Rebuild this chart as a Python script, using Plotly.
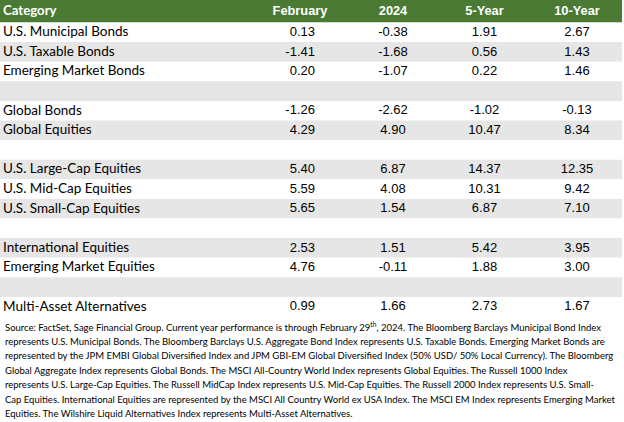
import plotly.graph_objects as go

categories = ["U.S. Municipal Bonds", "U.S. Taxable Bonds", "Emerging Market Bonds", "",
              "Global Bonds", "Global Equities", "",
              "U.S. Large-Cap Equities", "U.S. Mid-Cap Equities", "U.S. Small-Cap Equities", "",
              "International Equities", "Emerging Market Equities", "",
              "Multi-Asset Alternatives"]
february = [0.13, -1.41, 0.20, None, -1.26, 4.29, None, 5.40, 5.59, 5.65, None, 2.53, 4.76, None, 0.99]
ytd_2024 = [-0.38, -1.68, -1.07, None, -2.62, 4.90, None, 6.87, 4.08, 1.54, None, 1.51, -0.11, None, 1.66]
five_year = [1.91, 0.56, 0.22, None, -1.02, 10.47, None, 14.37, 10.31, 6.87, None, 5.42, 1.88, None, 2.73]
ten_year = [2.67, 1.43, 1.46, None, -0.13, 8.34, None, 12.35, 9.42, 7.10, None, 3.95, 3.00, None, 1.67]
headers = ["Category", "February", "2024", "5-Year", "10-Year"]

footnote_lines = [
    "Source: FactSet, Sage Financial Group. Current year performance is through February 29<sup>th</sup>, 2024. The Bloomberg Barclays Municipal Bond Index",
    "represents U.S. Municipal Bonds. The Bloomberg Barclays U.S. Aggregate Bond Index represents U.S. Taxable Bonds. Emerging Market Bonds are",
    "represented by the JPM EMBI Global Diversified Index and JPM GBI-EM Global Diversified Index (50% USD/ 50% Local Currency). The Bloomberg",
    "Global Aggregate Index represents Global Bonds. The MSCI All-Country World Index represents Global Equities. The Russell 1000 Index",
    "represents U.S. Large-Cap Equities. The Russell MidCap Index represents U.S. Mid-Cap Equities. The Russell 2000 Index represents U.S. Small-",
    "Cap Equities. International Equities are represented by the MSCI All Country World ex USA Index. The MSCI EM Index represents Emerging Market",
    "Equities. The Wilshire Liquid Alternatives Index represents Multi-Asset Alternatives.",
]

W, H = 624, 422
GREEN = "#4a7a33"
GREY = "#e6e6e6"
TABLE_W = 622
HEADER_H = 22.5
ROW_H = 19.6

n = len(categories)
row_centers = [HEADER_H + ROW_H * (i + 0.5) for i in range(n)]
row_fill = ["white" if i % 2 == 0 else GREY for i in range(n)]


def fmt(vals):
    return ["" if v is None else f"{v:.2f}" for v in vals]


fig = go.Figure()

# cell backgrounds (header + banded rows)
fig.add_trace(go.Bar(
    orientation="h",
    x=[TABLE_W] * (n + 1),
    base=0,
    y=[HEADER_H / 2] + row_centers,
    width=[HEADER_H] + [ROW_H] * n,
    marker=dict(color=[GREEN] + row_fill, line=dict(width=0)),
    hoverinfo="skip",
))

NUM_FONT = dict(family="Liberation Sans, Arial, sans-serif", size=13, color="black")
CAT_FONT = dict(family="Lato, sans-serif", size=13.5, color="black")

# header texts
header_x = [3, 300, 393, 484.5, 577]
header_pos = ["middle right", "middle center", "middle center", "middle center", "middle center"]
for hx, hp, h in zip(header_x, header_pos, headers):
    is_cat = h == headers[0]
    fig.add_trace(go.Scatter(
        x=[hx], y=[HEADER_H / 2 + 0.5], mode="text", text=[f"<b>{h}</b>"],
        textposition=hp,
        textfont=dict(family="Lato, sans-serif" if is_cat else "Liberation Sans, Arial, sans-serif",
                      size=13.2 if is_cat else 12.8, color="white"),
        hoverinfo="skip",
    ))

# body texts
columns = [
    (categories, 3, "middle right", CAT_FONT),
    (fmt(february), 315, "middle left", NUM_FONT),
    (fmt(ytd_2024), 393, "middle center", NUM_FONT),
    (fmt(five_year), 484.5, "middle center", NUM_FONT),
    (fmt(ten_year), 577, "middle center", NUM_FONT),
]
for texts, cx, pos, font in columns:
    fig.add_trace(go.Scatter(
        x=[cx] * n, y=[c + 0.5 for c in row_centers], mode="text", text=texts,
        textposition=pos, textfont=font, hoverinfo="skip",
    ))

for i, line in enumerate(footnote_lines):
    ypix = 326.7 + 14.5 * i
    fig.add_annotation(
        text=line, xref="paper", yref="paper", x=3 / W, y=1 - ypix / H,
        xanchor="left", yanchor="middle", showarrow=False, align="left",
        font=dict(family="Lato, sans-serif", size=9.5, color="black"),
    )

fig.update_layout(
    width=W, height=H,
    margin=dict(l=0, r=0, t=0, b=0),
    paper_bgcolor="white", plot_bgcolor="white",
    showlegend=False,
    xaxis=dict(range=[0, W], visible=False, fixedrange=True),
    yaxis=dict(range=[H, 0], visible=False, fixedrange=True),
)

fig.write_html("out.html", config={"displayModeBar": False},
               post_script="document.body.style.margin='0px';")
